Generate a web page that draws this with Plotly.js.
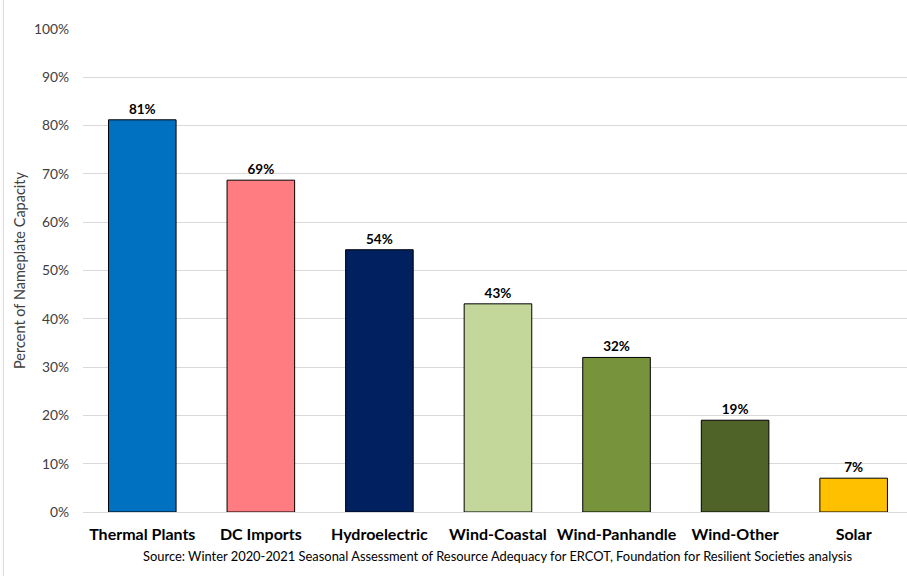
<!DOCTYPE html>
<html>
<head>
<meta charset="utf-8">
<script src="https://cdn.plot.ly/plotly-3.0.1.min.js"></script>
<style>html,body{margin:0;padding:0;background:#fff;}#chart{width:907px;height:576px;}</style>
</head>
<body>
<div id="chart"></div>
<script>
const categories = ["Thermal Plants", "DC Imports", "Hydroelectric", "Wind-Coastal", "Wind-Panhandle", "Wind-Other", "Solar"];
const values = [0.812, 0.687, 0.543, 0.431, 0.320, 0.190, 0.070];
const colors = ["#0070C0", "#FF7C80", "#002060", "#C4D79B", "#77933C", "#4F6228", "#FFC000"];
const yTicks = [0, 0.1, 0.2, 0.3, 0.4, 0.5, 0.6, 0.7, 0.8, 0.9, 1.0];
const sourceText = "Source: Winter 2020-2021 Seasonal Assessment of Resource Adequacy for ERCOT, Foundation for Resilient Societies analysis";

const font = "Lato, 'Open Sans', sans-serif";

const trace = {
  type: "bar",
  x: categories,
  y: values,
  marker: {color: colors, line: {color: "#000000", width: 1}},
  texttemplate: "%{y:.0%}",
  textposition: "outside",
  cliponaxis: false,
  textfont: {family: font, size: 13.5, color: "#000000", weight: "bold"},
  hoverinfo: "skip"
};

const layout = {
  width: 907, height: 576,
  margin: {l: 83, r: 0, t: 29, b: 64},
  paper_bgcolor: "#ffffff",
  plot_bgcolor: "#ffffff",
  bargap: 0.43,
  showlegend: false,
  xaxis: {
    type: "category",
    range: [-0.5, 6.45],
    showgrid: false,
    showline: false,
    zeroline: false,
    ticks: "",
    tickfont: {family: font, size: 16, color: "#000000", weight: "bold"},
    ticklabelstandoff: 11
  },
  yaxis: {
    range: [0, 1.0],
    tickvals: yTicks,
    tickformat: ".0%",
    showgrid: true,
    gridcolor: "#D9D9D9",
    gridwidth: 1,
    zeroline: true,
    zerolinecolor: "#D9D9D9",
    zerolinewidth: 1,
    showline: false,
    ticks: "",
    tickfont: {family: font, size: 13.8, color: "#404040"},
    ticklabelstandoff: 13,
    title: {text: "Percent of Nameplate Capacity", font: {family: font, size: 14.5, color: "#404040"}, standoff: 4}
  },
  annotations: [{
    text: sourceText,
    xref: "x", yref: "paper",
    x: 3, y: -0.091,
    xanchor: "center", yanchor: "middle",
    showarrow: false,
    font: {family: font, size: 12.9, color: "#000000"}
  }],
  shapes: [{
    type: "line", xref: "paper", yref: "paper",
    x0: -0.0966, x1: -0.0966, y0: -0.14, y1: 1.07,
    line: {color: "#D9D9D9", width: 1}
  }]
};

Plotly.newPlot("chart", [trace], layout, {displayModeBar: false, staticPlot: true});
</script>
</body>
</html>
